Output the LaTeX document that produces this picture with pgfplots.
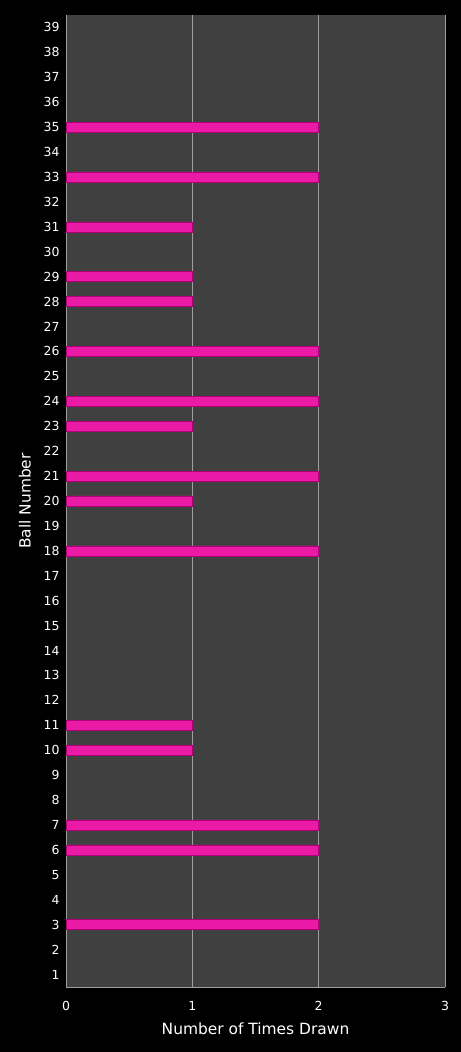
\documentclass[border=0pt]{standalone}
\usepackage{pgfplots}
\pgfplotsset{compat=1.18}
\usepackage{fontspec}
\setmainfont{DejaVu Sans}
\definecolor{plotbg}{RGB}{64,64,64}
\definecolor{barpink}{RGB}{234,26,166}
\definecolor{bardark}{RGB}{175,0,120}
\begin{document}
\begin{tikzpicture}[x=1bp,y=1bp]
\fill[black] (0,0) rectangle (461,1052);
\begin{axis}[
    at={(66bp,65bp)}, anchor=south west,
    width=379bp, height=972bp, scale only axis,
    axis background/.style={fill=plotbg},
    xbar, bar width=10bp,
    xmin=0, xmax=3, xtick={0,1,2,3},
    ymin=0.5, ymax=39.5, ytick={1,...,39},
    axis x line*=bottom, axis y line*=left,
    axis line style={draw=gray!75},
    major tick length=0pt,
    xmajorgrids, grid style={draw=gray!75, line width=0.6pt},
    tick label style={font=\fontsize{12.5}{14}\selectfont, text=white},
    /pgf/number format/assume math mode=true,
    xticklabel style={yshift=-11bp},
    yticklabel style={xshift=-3bp},
    xlabel={Number of Times Drawn},
    ylabel={Ball Number},
    label style={font=\fontsize{15.5}{17}\selectfont, text=white},
    xlabel style={yshift=-5bp},
    ylabel style={yshift=6bp},
]
\addplot[fill=barpink, draw=bardark, line width=0.6pt] coordinates {
    (2,3) (2,6) (2,7) (1,10) (1,11) (2,18) (1,20) (2,21) (1,23) (2,24)
    (2,26) (1,28) (1,29) (1,31) (2,33) (2,35)
};
\end{axis}
\end{tikzpicture}
\end{document}
